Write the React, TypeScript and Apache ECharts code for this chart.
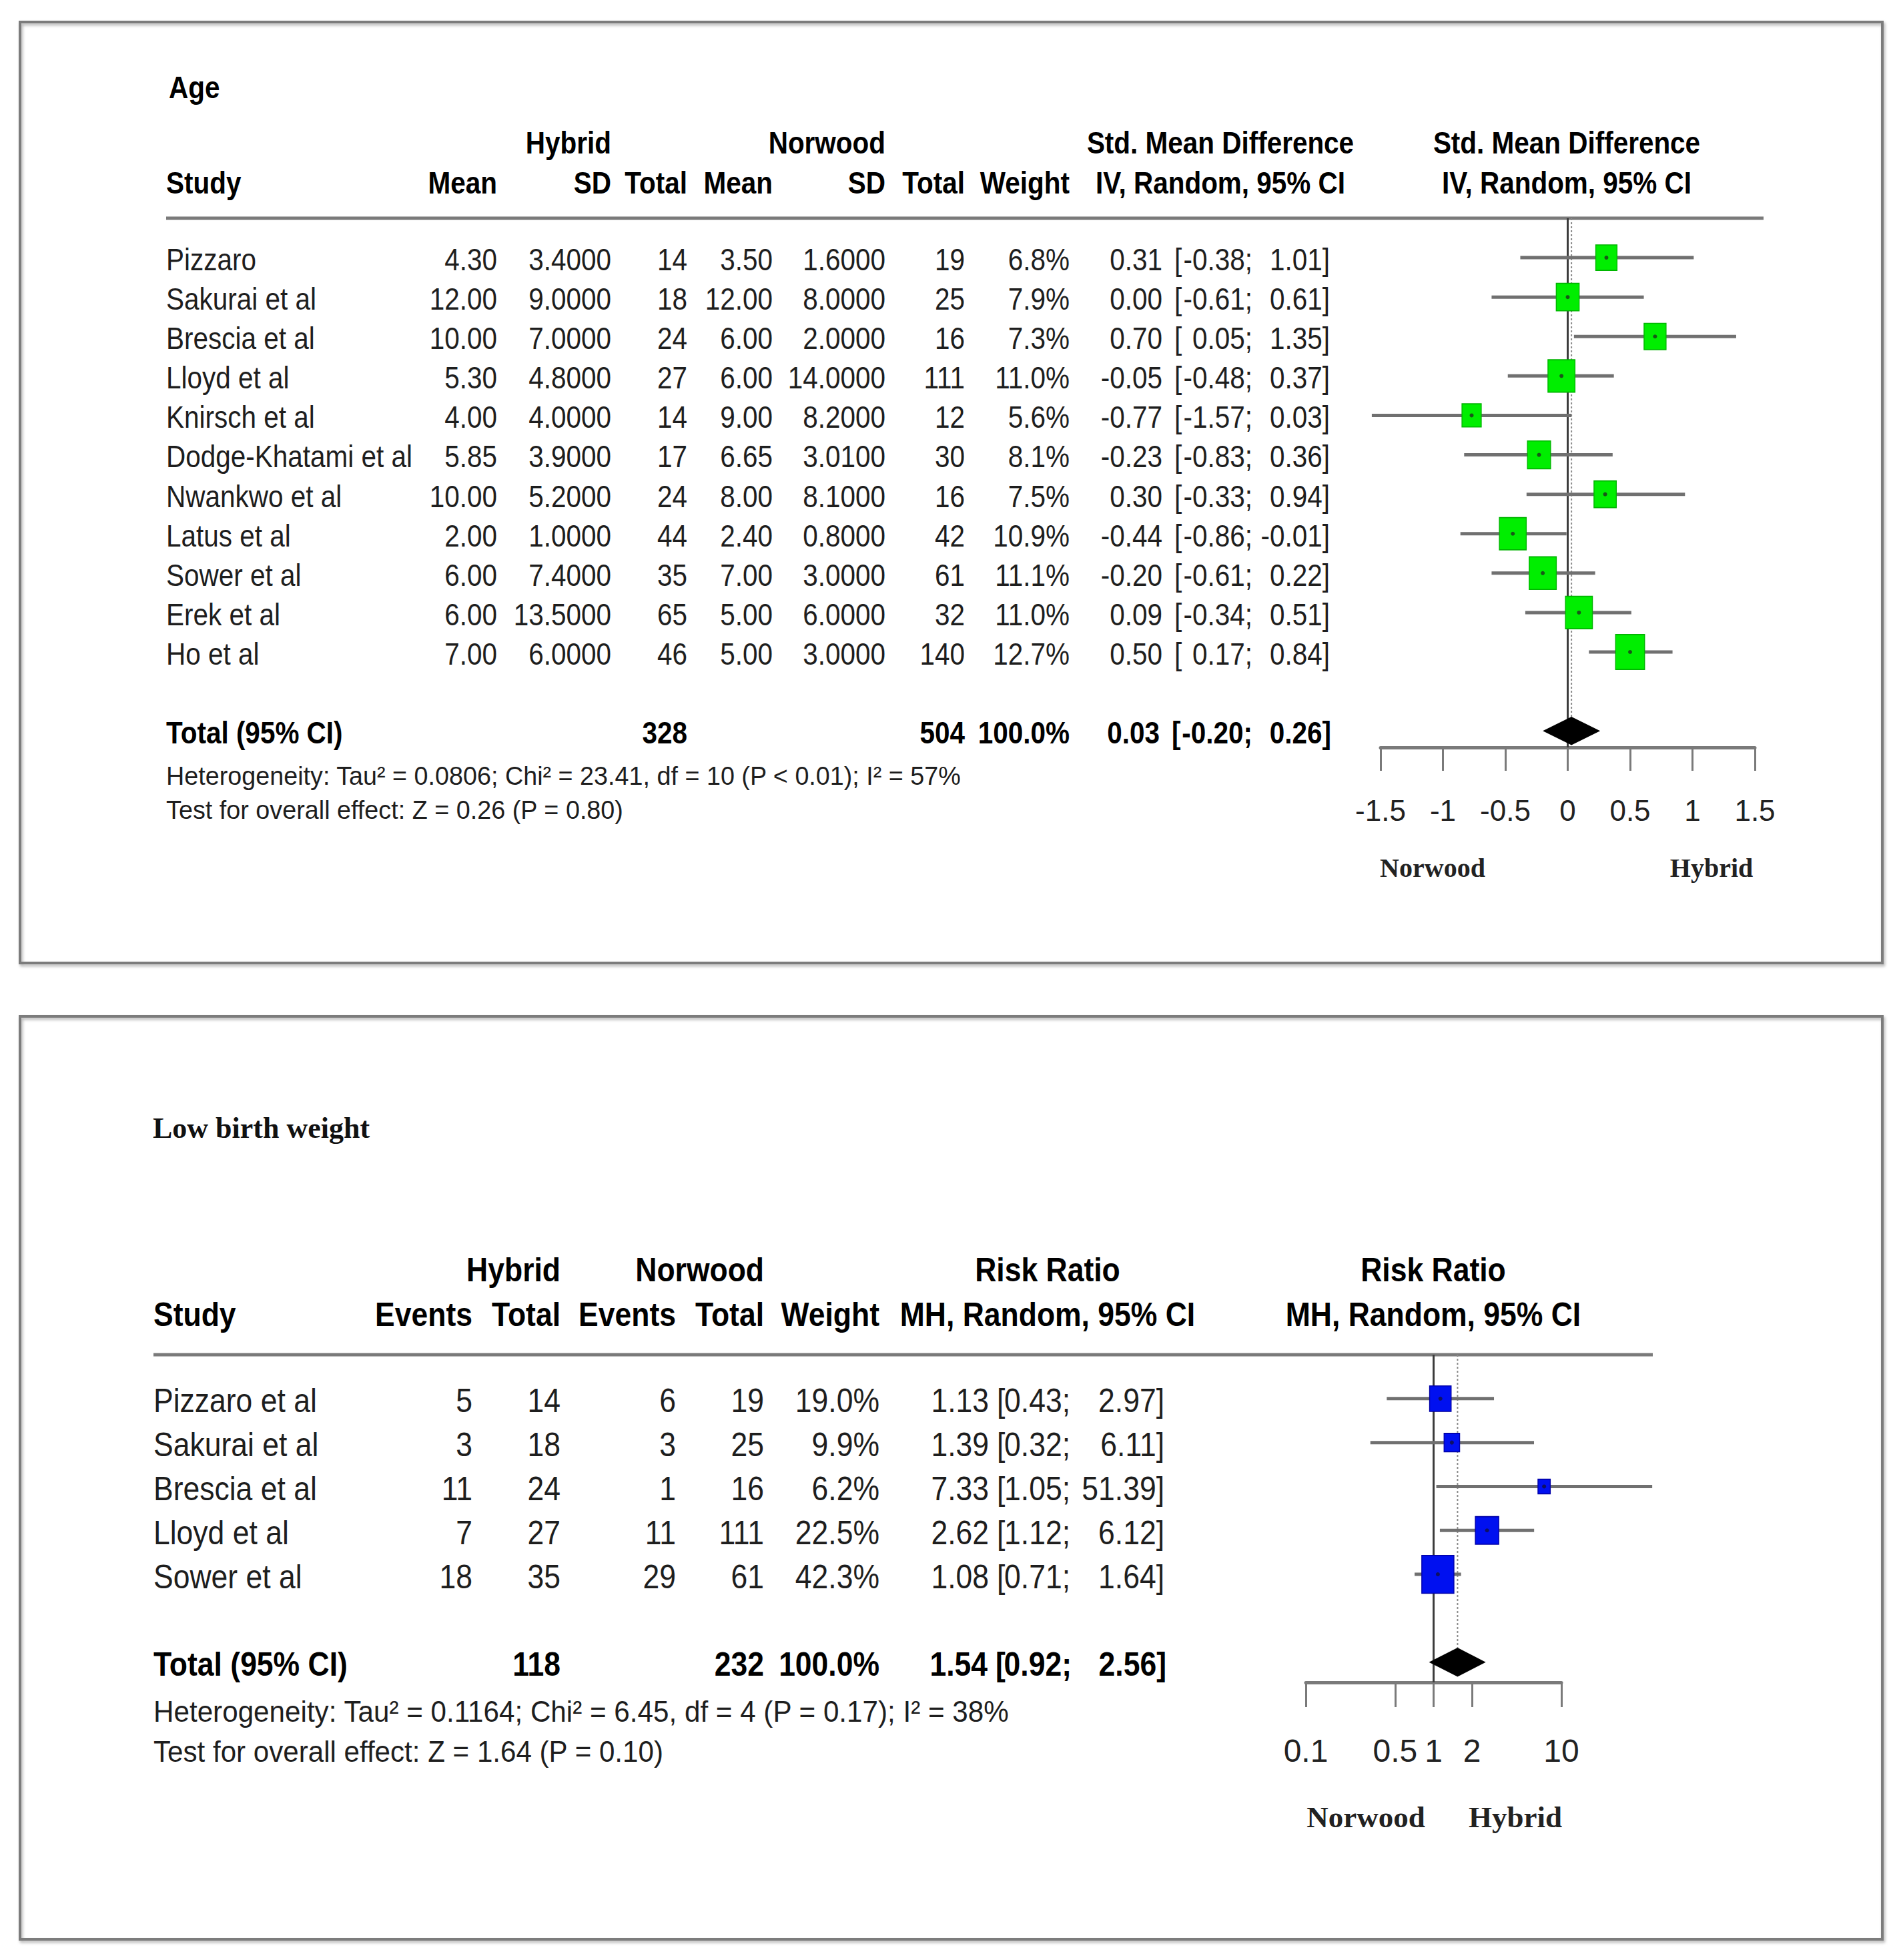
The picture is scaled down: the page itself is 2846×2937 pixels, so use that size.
import React, { useEffect, useRef } from 'react';
import * as echarts from 'echarts';

const SANS = 'Liberation Sans';
const SERIF = 'Liberation Serif';

// ---------- Panel 1: Age (Std. Mean Difference) ----------
const ageStudies = ['Pizzaro', 'Sakurai et al', 'Brescia et al', 'Lloyd et al', 'Knirsch et al', 'Dodge-Khatami et al', 'Nwankwo et al', 'Latus et al', 'Sower et al', 'Erek et al', 'Ho et al'];
const ageHybridMean = [4.3, 12, 10, 5.3, 4, 5.85, 10, 2, 6, 6, 7];
const ageHybridSD = [3.4, 9, 7, 4.8, 4, 3.9, 5.2, 1, 7.4, 13.5, 6];
const ageHybridN = [14, 18, 24, 27, 14, 17, 24, 44, 35, 65, 46];
const ageNorwoodMean = [3.5, 12, 6, 6, 9, 6.65, 8, 2.4, 7, 5, 5];
const ageNorwoodSD = [1.6, 8, 2, 14, 8.2, 3.01, 8.1, 0.8, 3, 6, 3];
const ageNorwoodN = [19, 25, 16, 111, 12, 30, 16, 42, 61, 32, 140];
const ageWeight = [6.8, 7.9, 7.3, 11.0, 5.6, 8.1, 7.5, 10.9, 11.1, 11.0, 12.7];
const ageSMD = [0.31, 0.0, 0.7, -0.05, -0.77, -0.23, 0.3, -0.44, -0.2, 0.09, 0.5];
const ageLower = [-0.38, -0.61, 0.05, -0.48, -1.57, -0.83, -0.33, -0.86, -0.61, -0.34, 0.17];
const ageUpper = [1.01, 0.61, 1.35, 0.37, 0.03, 0.36, 0.94, -0.01, 0.22, 0.51, 0.84];
const ageTotalN = [328, 504];
const ageSummary = [0.03, -0.2, 0.26];
const ageTicks = [-1.5, -1, -0.5, 0, 0.5, 1, 1.5];
const ageHet = 'Heterogeneity: Tau² = 0.0806; Chi² = 23.41, df = 10 (P < 0.01); I² = 57%';
const ageTest = 'Test for overall effect: Z = 0.26 (P = 0.80)';

// ---------- Panel 2: Low birth weight (Risk Ratio) ----------
const lbwStudies = ['Pizzaro et al', 'Sakurai et al', 'Brescia et al', 'Lloyd et al', 'Sower et al'];
const lbwHybridEvents = [5, 3, 11, 7, 18];
const lbwHybridN = [14, 18, 24, 27, 35];
const lbwNorwoodEvents = [6, 3, 1, 11, 29];
const lbwNorwoodN = [19, 25, 16, 111, 61];
const lbwWeight = [19.0, 9.9, 6.2, 22.5, 42.3];
const lbwRR = [1.13, 1.39, 7.33, 2.62, 1.08];
const lbwLower = [0.43, 0.32, 1.05, 1.12, 0.71];
const lbwUpper = [2.97, 6.11, 51.39, 6.12, 1.64];
const lbwTotalN = [118, 232];
const lbwSummary = [1.54, 0.92, 2.56];
const lbwTicks = [0.1, 0.5, 1, 2, 10];
const lbwHet = 'Heterogeneity: Tau² = 0.1164; Chi² = 6.45, df = 4 (P = 0.17); I² = 38%';
const lbwTest = 'Test for overall effect: Z = 1.64 (P = 0.10)';

// row axes extents (row -1 = header rule, last value = x axis line)
const ageRowRange = [-1, 12.42];
const lbwRowRange = [-1, 6.46];

const measureCtx = document.createElement('canvas').getContext('2d') as CanvasRenderingContext2D;
function fitScale(text: string, size: number, target: number, weight = 'normal') {
  measureCtx.font = `${weight} ${size}px "${SANS}"`;
  return target / measureCtx.measureText(text).width;
}
function hasFont(name: string) {
  const probe = 'Dodge-Khatami 0.1234567';
  measureCtx.font = '50px monospace';
  const a = measureCtx.measureText(probe).width;
  measureCtx.font = `50px "${name}", monospace`;
  const b = measureCtx.measureText(probe).width;
  return Math.abs(a - b) > 0.5;
}
const NARROW_OK = hasFont('Liberation Sans Narrow');
const TICK_FONT = NARROW_OK ? 'Liberation Sans Narrow' : SANS;
const TICK_SIZE_TOP = NARROW_OK ? 52 : 44;
const TICK_SIZE_BOT = NARROW_OK ? 58 : 48;

function txt(text: string, x: number, y: number, size: number, o: any = {}) {
  return {
    type: 'text', x, y, scaleX: o.sx ?? 1, silent: true, z: 10,
    style: {
      text, x: 0, y: 0, align: o.align ?? 'left', verticalAlign: 'middle',
      fontSize: size, fontFamily: o.family ?? SANS, fontWeight: o.bold ? 'bold' : 'normal',
      fill: o.color ?? '#1e1e1e',
    },
  };
}

function ciSeries(axis: number, lo: number[], hi: number[]) {
  return {
    type: 'custom', xAxisIndex: axis, yAxisIndex: axis, z: 2, silent: true, clip: false,
    data: lo.map((l, i) => [l, hi[i], i]),
    encode: { x: [0, 1], y: 2 },
    renderItem: (_p: any, api: any) => {
      const a = api.coord([api.value(0), api.value(2)]);
      const b = api.coord([api.value(1), api.value(2)]);
      return { type: 'line', shape: { x1: a[0], y1: a[1], x2: b[0], y2: b[1] }, style: { stroke: '#707070', lineWidth: 5 } };
    },
  };
}

function refSeries(axis: number, lines: number[][]) {
  return {
    type: 'custom', xAxisIndex: axis, yAxisIndex: axis, z: 1, silent: true, clip: false,
    data: lines,
    encode: { x: 0, y: [1, 2] },
    renderItem: (_p: any, api: any) => {
      const a = api.coord([api.value(0), api.value(1)]);
      const b = api.coord([api.value(0), api.value(2)]);
      const dotted = api.value(3) === 1;
      return {
        type: 'line', shape: { x1: a[0], y1: a[1], x2: b[0], y2: b[1] },
        style: dotted ? { stroke: '#8a8a8a', lineWidth: 2, lineDash: [3, 3] } : { stroke: '#3c3c3c', lineWidth: 3 },
      };
    },
  };
}

function squareSeries(axis: number, est: number[], w: number[], k: number, ratio: number, color: string, border: string) {
  return {
    type: 'scatter', xAxisIndex: axis, yAxisIndex: axis, z: 3, silent: true, symbol: 'rect',
    data: est.map((e, i) => [e, i, w[i]]),
    symbolSize: (v: number[]) => [k * Math.sqrt(v[2]), k * ratio * Math.sqrt(v[2])],
    itemStyle: { color, borderColor: border, borderWidth: 1.5, opacity: 1 },
  };
}

function dotSeries(axis: number, est: number[], color: string) {
  return {
    type: 'scatter', xAxisIndex: axis, yAxisIndex: axis, z: 4, silent: true, symbol: 'circle', symbolSize: 6,
    data: est.map((e, i) => [e, i]),
    itemStyle: { color, opacity: 0.85 },
  };
}

function diamondSeries(axis: number, summary: number[], row: number, halfH: number) {
  return {
    type: 'custom', xAxisIndex: axis, yAxisIndex: axis, z: 5, silent: true, clip: false,
    data: [[summary[0], summary[1], summary[2], row]],
    encode: { x: [0, 1, 2], y: 3 },
    renderItem: (_p: any, api: any) => {
      const r = api.value(3);
      const L = api.coord([api.value(1), r]);
      const R = api.coord([api.value(2), r]);
      const T = api.coord([api.value(0), r - halfH]);
      const B = api.coord([api.value(0), r + halfH]);
      return { type: 'polygon', shape: { points: [L, T, R, B] }, style: { fill: '#000000' } };
    },
  };
}

const axisLineStyle = { color: '#7a7a7a', width: 5 };
const tickLineStyle = { color: '#7a7a7a', width: 3 };
const numFmt = (v: number) => String(Number(Number(v).toPrecision(6)));

function buildOption() {
  const ageTotalRow = ageStudies.length + 1;
  const lbwTotalRow = lbwStudies.length + 1;
  return {
    animation: false,
    backgroundColor: '#ffffff',
    grid: [
      { left: 2069, top: 327, width: 561, height: 793 },
      { left: 1957, top: 2030, width: 383, height: 491 },
    ],
    xAxis: [
      {
        type: 'value', gridIndex: 0, min: ageTicks[0], max: ageTicks[ageTicks.length - 1], interval: 0.5,
        splitLine: { show: false },
        axisLine: { show: true, onZero: false, lineStyle: axisLineStyle },
        axisTick: { show: true, length: 35, lineStyle: tickLineStyle },
        axisLabel: { margin: 72, fontSize: TICK_SIZE_TOP, fontFamily: TICK_FONT, color: '#222', formatter: numFmt },
      },
      {
        type: 'log', logBase: 10, gridIndex: 1, min: lbwTicks[0], max: lbwTicks[lbwTicks.length - 1],
        splitLine: { show: false }, minorTick: { show: false },
        axisLine: { show: true, onZero: false, lineStyle: axisLineStyle },
        axisTick: { show: true, length: 37, lineStyle: tickLineStyle, customValues: lbwTicks },
        axisLabel: { margin: 78, fontSize: TICK_SIZE_BOT, fontFamily: TICK_FONT, color: '#222', customValues: lbwTicks, formatter: numFmt },
      },
    ],
    yAxis: [
      { type: 'value', gridIndex: 0, min: ageRowRange[0], max: ageRowRange[1], inverse: true, show: false },
      { type: 'value', gridIndex: 1, min: lbwRowRange[0], max: lbwRowRange[1], inverse: true, show: false },
    ],
    series: [
      refSeries(0, [[0, ageRowRange[0], ageRowRange[1], 0], [ageSummary[0], ageRowRange[0], ageTotalRow - 0.36, 1]]),
      ciSeries(0, ageLower, ageUpper),
      squareSeries(0, ageSMD, ageWeight, 12.2, 1.2, '#00EE00', '#00B400'),
      dotSeries(0, ageSMD, '#1c3c1c'),
      diamondSeries(0, ageSummary, ageTotalRow, 0.36),
      refSeries(1, [[1, lbwRowRange[0], lbwRowRange[1], 0], [lbwSummary[0], lbwRowRange[0], lbwTotalRow - 0.33, 1]]),
      ciSeries(1, lbwLower, lbwUpper),
      squareSeries(1, lbwRR, lbwWeight, 7.4, 1.18, '#0010F0', '#0000A8'),
      dotSeries(1, lbwRR, '#10104a'),
      diamondSeries(1, lbwSummary, lbwTotalRow, 0.33),
    ],
  };
}

function buildGraphics(chart: any) {
  const rowY = (g: number, r: number) => chart.convertToPixel({ gridIndex: g }, [g === 0 ? 0 : 1, r])[1];
  const els: any[] = [];
  const frame = (x: number, y: number, w: number, h: number) => ({
    type: 'rect', silent: true, z: 0, shape: { x, y, width: w, height: h },
    style: { fill: 'none', stroke: '#7c7c7c', lineWidth: 4, shadowBlur: 4, shadowColor: 'rgba(0,0,0,0.3)', shadowOffsetX: 2, shadowOffsetY: 3 },
  });
  els.push(frame(30, 33, 2791, 1410));
  els.push(frame(30, 1523, 2791, 1383));

  // ----- panel 1 -----
  const S1 = 46, SX1 = 0.88, HB1 = 0.88;
  const top1 = rowY(0, ageRowRange[0]);
  els.push({ type: 'line', silent: true, shape: { x1: 249, y1: top1, x2: 2643, y2: top1 }, style: { stroke: '#7a7a7a', lineWidth: 5 } });
  els.push(txt('Age', 253, 131, 46, { bold: true, sx: HB1, color: '#000' }));
  const h1 = { bold: true, sx: HB1, color: '#000' };
  els.push(txt('Hybrid', 916, 214, S1, { ...h1, align: 'right' }));
  els.push(txt('Norwood', 1327, 214, S1, { ...h1, align: 'right' }));
  els.push(txt('Std. Mean Difference', 1829, 214, S1, { ...h1, align: 'center' }));
  els.push(txt('Std. Mean Difference', 2348, 214, S1, { ...h1, align: 'center' }));
  els.push(txt('Study', 249, 274, S1, h1));
  const hdr1: [string, number][] = [['Mean', 745], ['SD', 916], ['Total', 1030], ['Mean', 1158], ['SD', 1327], ['Total', 1446], ['Weight', 1603]];
  hdr1.forEach(([t, x]) => els.push(txt(t, x, 274, S1, { ...h1, align: 'right' })));
  els.push(txt('IV, Random, 95% CI', 1829, 274, S1, { ...h1, align: 'center' }));
  els.push(txt('IV, Random, 95% CI', 2348, 274, S1, { ...h1, align: 'center' }));

  ageStudies.forEach((name, i) => {
    const y = rowY(0, i) + 3;
    const o = { sx: SX1, align: 'right' };
    els.push(txt(name, 249, y, S1, { sx: SX1 }));
    els.push(txt(ageHybridMean[i].toFixed(2), 745, y, S1, o));
    els.push(txt(ageHybridSD[i].toFixed(4), 916, y, S1, o));
    els.push(txt(String(ageHybridN[i]), 1030, y, S1, o));
    els.push(txt(ageNorwoodMean[i].toFixed(2), 1158, y, S1, o));
    els.push(txt(ageNorwoodSD[i].toFixed(4), 1327, y, S1, o));
    els.push(txt(String(ageNorwoodN[i]), 1446, y, S1, o));
    els.push(txt(ageWeight[i].toFixed(1) + '%', 1603, y, S1, o));
    els.push(txt(ageSMD[i].toFixed(2), 1742, y, S1, o));
    els.push(txt('[', 1760, y, S1, { sx: SX1 }));
    els.push(txt(ageLower[i].toFixed(2) + ';', 1877, y, S1, o));
    els.push(txt(ageUpper[i].toFixed(2) + ']', 1993, y, S1, o));
  });
  {
    const y = rowY(0, ageStudies.length + 1) + 3;
    const o = { sx: HB1, align: 'right', bold: true, color: '#000' };
    els.push(txt('Total (95% CI)', 249, y, S1, { sx: HB1, bold: true, color: '#000' }));
    els.push(txt(String(ageTotalN[0]), 1030, y, S1, o));
    els.push(txt(String(ageTotalN[1]), 1446, y, S1, o));
    els.push(txt('100.0%', 1603, y, S1, o));
    els.push(txt(ageSummary[0].toFixed(2), 1738, y, S1, o));
    els.push(txt('[', 1756, y, S1, { sx: HB1, bold: true, color: '#000' }));
    els.push(txt(ageSummary[1].toFixed(2) + ';', 1877, y, S1, o));
    els.push(txt(ageSummary[2].toFixed(2) + ']', 1995, y, S1, o));
  }
  els.push(txt(ageHet, 249, 1163, 38, { sx: fitScale(ageHet, 38, 1192) }));
  els.push(txt(ageTest, 249, 1214, 38, { sx: fitScale(ageTest, 38, 686) }));
  els.push(txt('Norwood', 2147, 1300, 40, { family: SERIF, bold: true, align: 'center', color: '#222' }));
  els.push(txt('Hybrid', 2565, 1300, 40, { family: SERIF, bold: true, align: 'center', color: '#222' }));

  // ----- panel 2 -----
  const S2 = 50, SX2 = 0.89, HB2 = 0.89;
  const top2 = rowY(1, lbwRowRange[0]);
  els.push({ type: 'line', silent: true, shape: { x1: 230, y1: top2, x2: 2477, y2: top2 }, style: { stroke: '#7a7a7a', lineWidth: 5 } });
  els.push(txt('Low birth weight', 229, 1690, 44, { family: SERIF, bold: true, color: '#111' }));
  const h2 = { bold: true, sx: HB2, color: '#000' };
  els.push(txt('Hybrid', 840, 1903, S2, { ...h2, align: 'right' }));
  els.push(txt('Norwood', 1145, 1903, S2, { ...h2, align: 'right' }));
  els.push(txt('Risk Ratio', 1570, 1903, S2, { ...h2, align: 'center' }));
  els.push(txt('Risk Ratio', 2148, 1903, S2, { ...h2, align: 'center' }));
  els.push(txt('Study', 230, 1970, S2, h2));
  const hdr2: [string, number][] = [['Events', 708], ['Total', 840], ['Events', 1013], ['Total', 1145], ['Weight', 1318]];
  hdr2.forEach(([t, x]) => els.push(txt(t, x, 1970, S2, { ...h2, align: 'right' })));
  els.push(txt('MH, Random, 95% CI', 1570, 1970, S2, { ...h2, align: 'center' }));
  els.push(txt('MH, Random, 95% CI', 2148, 1970, S2, { ...h2, align: 'center' }));

  lbwStudies.forEach((name, i) => {
    const y = rowY(1, i) + 3;
    const o = { sx: SX2, align: 'right' };
    els.push(txt(name, 230, y, S2, { sx: SX2 }));
    els.push(txt(String(lbwHybridEvents[i]), 708, y, S2, o));
    els.push(txt(String(lbwHybridN[i]), 840, y, S2, o));
    els.push(txt(String(lbwNorwoodEvents[i]), 1013, y, S2, o));
    els.push(txt(String(lbwNorwoodN[i]), 1145, y, S2, o));
    els.push(txt(lbwWeight[i].toFixed(1) + '%', 1318, y, S2, o));
    els.push(txt(lbwRR[i].toFixed(2), 1482, y, S2, o));
    els.push(txt('[', 1494, y, S2, { sx: SX2 }));
    els.push(txt(lbwLower[i].toFixed(2) + ';', 1604, y, S2, o));
    els.push(txt(lbwUpper[i].toFixed(2) + ']', 1745, y, S2, o));
  });
  {
    const y = rowY(1, lbwStudies.length + 1) + 3;
    const o = { sx: HB2, align: 'right', bold: true, color: '#000' };
    els.push(txt('Total (95% CI)', 230, y, S2, { sx: HB2, bold: true, color: '#000' }));
    els.push(txt(String(lbwTotalN[0]), 840, y, S2, o));
    els.push(txt(String(lbwTotalN[1]), 1145, y, S2, o));
    els.push(txt('100.0%', 1318, y, S2, o));
    els.push(txt(lbwSummary[0].toFixed(2), 1480, y, S2, o));
    els.push(txt('[', 1492, y, S2, { sx: HB2, bold: true, color: '#000' }));
    els.push(txt(lbwSummary[1].toFixed(2) + ';', 1606, y, S2, o));
    els.push(txt(lbwSummary[2].toFixed(2) + ']', 1748, y, S2, o));
  }
  els.push(txt(lbwHet, 230, 2565, 45, { sx: fitScale(lbwHet, 45, 1284) }));
  els.push(txt(lbwTest, 230, 2625, 45, { sx: fitScale(lbwTest, 45, 765) }));
  els.push(txt('Norwood', 2047, 2723, 45, { family: SERIF, bold: true, align: 'center', color: '#222' }));
  els.push(txt('Hybrid', 2271, 2723, 45, { family: SERIF, bold: true, align: 'center', color: '#222' }));
  return els;
}

export default function App() {
  const ref = useRef<HTMLDivElement>(null);
  useEffect(() => {
    const chart = echarts.init(ref.current as HTMLDivElement, null, { renderer: 'svg' });
    chart.setOption(buildOption() as any);
    chart.setOption({ graphic: buildGraphics(chart) } as any);
    return () => chart.dispose();
  }, []);
  return <div ref={ref} style={{ position: 'absolute', left: 0, top: 0, width: 2846, height: 2937, background: '#fff' }} />;
}
